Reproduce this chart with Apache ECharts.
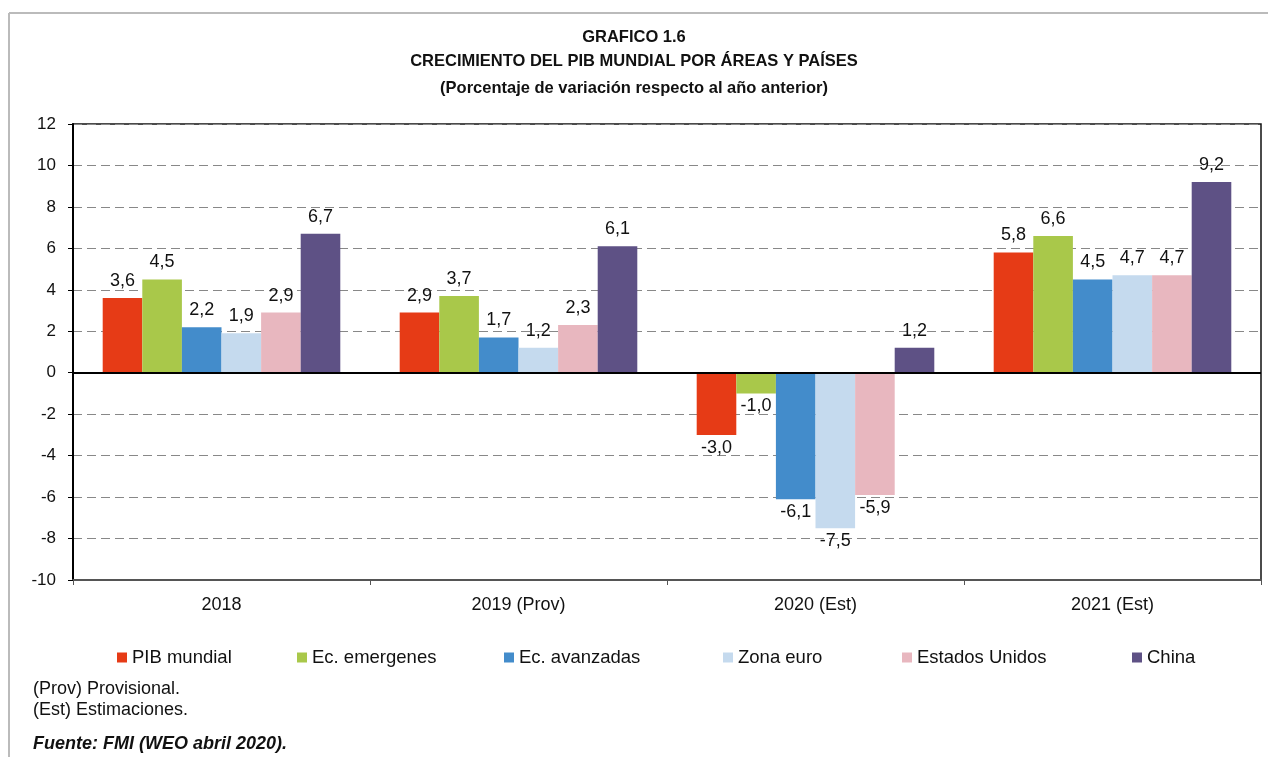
<!DOCTYPE html>
<html>
<head>
<meta charset="utf-8">
<script src="https://cdn.jsdelivr.net/npm/echarts@6/dist/echarts.min.js"></script>
<style>
  html, body { margin: 0; padding: 0; background: #fff; }
  #chart { width: 1268px; height: 757px; }
</style>
</head>
<body>
<div id="chart"></div>
<script>
// Data
const categories = ["2018", "2019 (Prov)", "2020 (Est)", "2021 (Est)"];
const seriesNames = ["PIB mundial", "Ec. emergenes", "Ec. avanzadas", "Zona euro", "Estados Unidos", "China"];
const pibMundial = [3.6, 2.9, -3.0, 5.8];
const ecEmergentes = [4.5, 3.7, -1.0, 6.6];
const ecAvanzadas = [2.2, 1.7, -6.1, 4.5];
const zonaEuro = [1.9, 1.2, -7.5, 4.7];
const estadosUnidos = [2.9, 2.3, -5.9, 4.7];
const china = [6.7, 6.1, 1.2, 9.2];
const yTicks = [-10, -8, -6, -4, -2, 0, 2, 4, 6, 8, 10, 12];

const colors = ["#E63B16", "#A9C84A", "#438CCB", "#C5DAEE", "#E8B7BF", "#5E5185"];
const values = [pibMundial, ecEmergentes, ecAvanzadas, zonaEuro, estadosUnidos, china];
// legend x positions, the original spacing is uneven
const legendLeft = [117, 297, 504, 723, 902, 1132];

const font = "'Liberation Sans', Arial, Helvetica, sans-serif";

const chart = echarts.init(document.getElementById("chart"));

const series = seriesNames.map((name, i) => ({
  name: name,
  type: "bar",
  barGap: "0%",
  barCategoryGap: "20%",
  itemStyle: { color: colors[i] },
  data: values[i].map(v => ({
    value: v,
    label: { position: v < 0 ? "bottom" : "top", distance: v < 0 ? 4 : 8 }
  })),
  label: {
    show: true,
    color: "#111",
    fontSize: 18,
    fontFamily: font,
    formatter: p => p.value.toFixed(1).replace(".", ",")
  },
  markLine: i === 0 ? {
    silent: true,
    symbol: "none",
    label: { show: false },
    lineStyle: { color: "#000", type: "solid", width: 2 },
    data: [{ yAxis: 0 }]
  } : undefined
}));

const options = {
  animation: false,
  textStyle: { fontFamily: font },
  grid: {
    left: 73, right: 7, top: 124, bottom: 177,
    show: true, borderColor: "#111", borderWidth: 1.5
  },
  xAxis: {
    type: "category",
    data: categories,
    axisLine: { onZero: false, lineStyle: { color: "#555", width: 2 } },
    axisTick: { show: true, length: 5, lineStyle: { color: "#555" } },
    axisLabel: { color: "#111", fontSize: 18, margin: 16, fontFamily: font }
  },
  yAxis: {
    type: "value",
    min: yTicks[0],
    max: yTicks[yTicks.length - 1],
    interval: 2,
    axisLine: { show: true, lineStyle: { color: "#000", width: 2 } },
    axisTick: { show: true, length: 5, lineStyle: { color: "#000" } },
    axisLabel: { color: "#111", fontSize: 17, margin: 17, fontFamily: font },
    splitLine: { lineStyle: { color: "#888", type: [9, 5], width: 1.2 } }
  },
  legend: seriesNames.map((name, i) => ({
    data: [name],
    left: legendLeft[i],
    top: 648,
    padding: 0,
    icon: "rect",
    itemWidth: 10,
    itemHeight: 10,
    itemGap: 0,
    textStyle: { color: "#111", fontSize: 18.5, fontFamily: font, padding: [0, 0, 0, 0] },
    selectedMode: false
  })),
  graphic: [
    { type: "line", shape: { x1: 9, y1: 13, x2: 1268, y2: 13 }, style: { stroke: "#bbb", lineWidth: 2 } },
    { type: "line", shape: { x1: 9, y1: 13, x2: 9, y2: 757 }, style: { stroke: "#bbb", lineWidth: 2 } },
    { type: "text", left: "center", top: 29, style: { text: "GRAFICO 1.6", font: "bold 16.5px " + font, fill: "#111" } },
    { type: "text", left: "center", top: 53, style: { text: "CRECIMIENTO DEL PIB MUNDIAL POR ÁREAS Y PAÍSES", font: "bold 16.5px " + font, fill: "#111" } },
    { type: "text", left: "center", top: 80, style: { text: "(Porcentaje de variación respecto al año anterior)", font: "bold 16.5px " + font, fill: "#111" } },
    { type: "text", left: 33, top: 680, style: { text: "(Prov) Provisional.", font: "18px " + font, fill: "#111" } },
    { type: "text", left: 33, top: 701, style: { text: "(Est) Estimaciones.", font: "18px " + font, fill: "#111" } },
    { type: "text", left: 33, top: 735, style: { text: "Fuente: FMI (WEO abril 2020).", font: "italic bold 18px " + font, fill: "#111" } }
  ],
  series: series
};

chart.setOption(options);

window.addEventListener("resize", () => {
  chart.resize();
});
</script>
</body>
</html>
